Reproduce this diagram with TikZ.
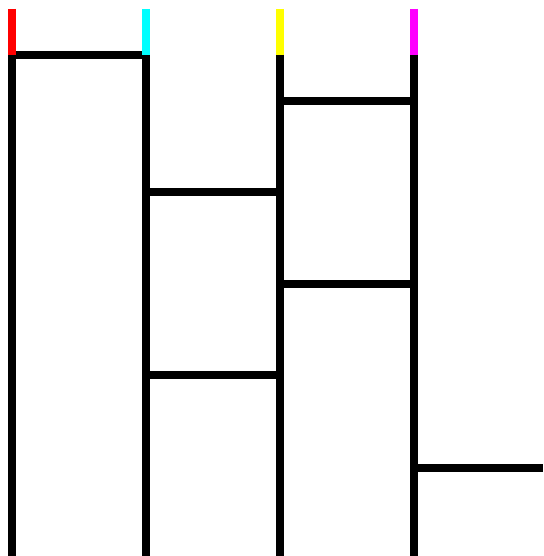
\documentclass[tikz,border=0pt]{standalone}
\usepackage{tikz}
\definecolor{legred}{RGB}{255,0,0}
\definecolor{legcyan}{RGB}{0,255,255}
\definecolor{legyellow}{RGB}{255,255,0}
\definecolor{legmagenta}{RGB}{255,0,255}

\begin{document}
\begin{tikzpicture}[x=1pt,y=-1pt,line width=8pt]
        \useasboundingbox (0,0) rectangle (543,556);
        % rungs
        \draw (12,55) -- (146,55);
        \draw (280,101) -- (414,101);
        \draw (146,192) -- (280,192);
        \draw (280,284) -- (414,284);
        \draw (146,375) -- (280,375);
        \draw (414,468) -- (543,468);
        % legs
        \foreach \x/\c in {12/legred,146/legcyan,280/legyellow,414/legmagenta} {
          \draw[\c] (\x,9) -- (\x,55);
          \draw (\x,55) -- (\x,556);
        }
      \end{tikzpicture}
\end{document}
